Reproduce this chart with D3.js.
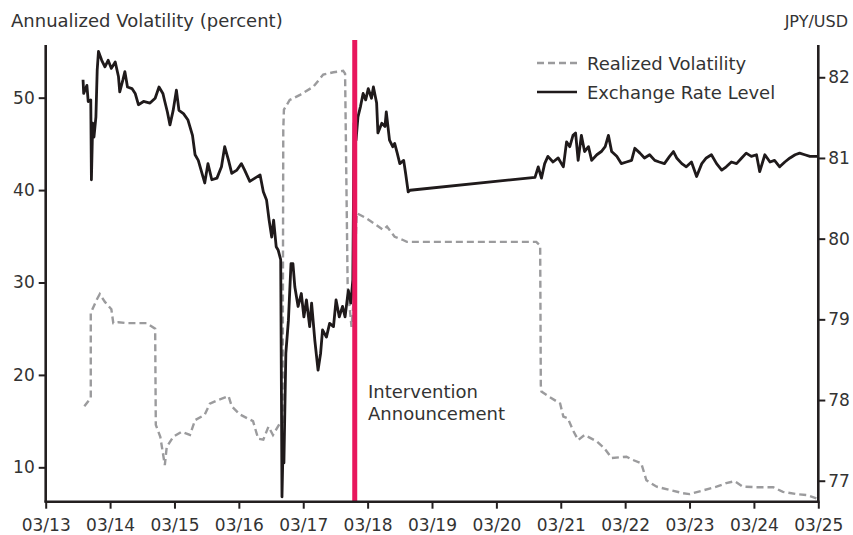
<!DOCTYPE html>
<html>
<head>
<meta charset="utf-8">
<script src="https://cdn.jsdelivr.net/npm/d3@7"></script>
<style>
  html, body { margin: 0; padding: 0; background: #fff; }
  svg { display: block; }
  text { font-family: "DejaVu Sans", sans-serif; fill: #333; }
</style>
</head>
<body>
<svg id="chart" width="853" height="535"></svg>
<script>
// ---------- data ----------
const xTickDays = [13, 14, 15, 16, 17, 18, 19, 20, 21, 22, 23, 24, 25];
const xTickLabels = ["03/13","03/14","03/15","03/16","03/17","03/18","03/19","03/20","03/21","03/22","03/23","03/24","03/25"];
const leftTicks = [10, 20, 30, 40, 50];
const rightTicks = [77, 78, 79, 80, 81, 82];
const interventionDay = 17.8;

// Realized volatility (percent, left axis)
const volDays = [13.60,13.70,13.70,13.79,13.84,13.92,14.02,14.05,14.13,14.26,14.57,14.70,14.71,14.78,14.85,14.88,14.98,15.11,15.24,15.32,15.47,15.55,15.68,15.84,15.89,16.02,16.22,16.30,16.38,16.46,16.53,16.64,16.68,16.69,16.70,16.79,16.95,17.16,17.31,17.47,17.62,17.65,17.69,17.75,17.78,17.83,17.98,18.14,18.24,18.30,18.42,18.55,18.61,20.62,20.68,20.69,20.70,20.83,20.99,21.04,21.11,21.19,21.27,21.37,21.56,21.68,21.79,22.02,22.12,22.25,22.33,22.49,22.69,22.90,23.00,23.21,23.42,23.57,23.70,23.83,24.04,24.30,24.45,24.66,24.82,24.97];
const volValues = [16.6,17.5,26.7,28.1,28.75,27.9,27.1,25.6,25.7,25.6,25.6,25.0,14.6,13.3,10.25,12.2,13.3,13.85,13.5,15.1,15.7,16.9,17.3,17.7,16.6,15.7,15.0,13.1,13.0,14.4,13.5,14.8,14.9,46.5,48.7,49.75,50.3,51.2,52.5,52.75,52.9,52.6,29.5,25.2,27.8,37.5,36.95,36.2,35.7,36.05,34.95,34.6,34.4,34.4,34.0,18.9,18.2,17.6,16.9,15.5,15.3,14.0,12.95,13.5,12.8,12.05,11.0,11.15,10.8,10.45,8.6,7.9,7.55,7.2,7.1,7.5,7.9,8.3,8.5,7.9,7.85,7.85,7.35,7.1,7.0,6.65];

// Exchange rate level (JPY/USD, right axis)
const fxDays = [13.58,13.59,13.64,13.66,13.70,13.71,13.73,13.75,13.78,13.80,13.82,13.87,13.92,13.97,14.02,14.08,14.13,14.15,14.20,14.23,14.27,14.34,14.39,14.44,14.52,14.62,14.70,14.76,14.82,14.85,14.89,14.93,14.98,15.03,15.07,15.14,15.21,15.28,15.32,15.37,15.42,15.47,15.52,15.58,15.66,15.73,15.78,15.84,15.89,15.97,16.04,16.09,16.17,16.25,16.33,16.38,16.43,16.47,16.51,16.54,16.58,16.61,16.65,16.67,16.69,16.70,16.73,16.77,16.81,16.84,16.87,16.92,16.97,17.01,17.05,17.10,17.13,17.18,17.23,17.27,17.30,17.36,17.41,17.47,17.51,17.56,17.61,17.65,17.70,17.74,17.77,17.79,17.82,17.85,17.89,17.93,17.97,18.01,18.06,18.09,18.14,18.16,18.22,18.27,18.29,18.34,18.39,18.42,18.46,18.50,18.56,18.59,18.63,18.66,20.60,20.65,20.70,20.75,20.80,20.88,20.96,21.04,21.09,21.14,21.19,21.23,21.27,21.32,21.37,21.43,21.48,21.56,21.63,21.69,21.74,21.79,21.87,21.94,22.02,22.10,22.15,22.23,22.30,22.38,22.46,22.53,22.61,22.69,22.75,22.80,22.88,22.95,23.03,23.11,23.19,23.26,23.34,23.42,23.50,23.57,23.65,23.73,23.81,23.88,23.96,24.04,24.09,24.17,24.25,24.32,24.40,24.48,24.56,24.64,24.71,24.79,24.87,24.95,25.00];
const fxValues = [81.97,81.80,81.90,81.70,81.72,80.73,81.43,81.26,81.51,82.09,82.32,82.21,82.13,82.21,82.11,82.19,82.01,81.82,81.97,82.07,81.88,81.86,81.80,81.66,81.70,81.68,81.74,81.88,81.80,81.70,81.57,81.41,81.59,81.84,81.59,81.55,81.47,81.28,81.04,80.97,80.83,80.69,80.93,80.73,80.75,80.89,81.14,80.97,80.81,80.85,80.93,80.85,80.71,80.75,80.79,80.58,80.48,80.23,80.02,80.23,79.90,79.86,79.74,76.80,77.55,77.22,78.58,78.99,79.69,79.69,79.40,79.16,79.32,79.03,79.24,78.91,79.20,78.74,78.37,78.58,78.87,78.78,78.95,78.91,79.24,79.03,79.16,79.03,79.36,79.20,79.49,81.43,81.22,81.51,81.64,81.80,81.72,81.86,81.74,81.88,81.68,81.31,81.43,81.39,81.57,81.22,81.14,81.18,81.06,80.93,80.97,80.81,80.58,80.60,80.76,80.89,80.75,80.93,81.02,80.95,81.00,80.89,81.20,81.14,81.28,81.31,80.97,81.28,81.08,81.14,80.97,81.04,81.08,81.14,81.28,81.08,81.02,80.93,80.95,80.97,81.12,81.06,81.00,81.04,80.97,80.95,80.93,81.02,81.08,81.00,80.93,80.89,80.95,80.77,80.93,81.00,81.04,80.93,80.85,80.89,80.95,80.93,81.00,81.06,81.02,81.04,80.83,81.04,80.95,80.97,80.89,80.95,81.00,81.04,81.06,81.04,81.02,81.02,81.02];

// ---------- chart ----------
const svg = d3.select("#chart");
const mLeft = 45.7, mRight = 818.3, mTop = 45, mBottom = 501.7;

const x = d3.scaleLinear().domain([13, 25]).range([mLeft, mRight]);
const yL = d3.scaleLinear().domain([6.28, 55.7]).range([mBottom, mTop]);
const yR = d3.scaleLinear().domain([76.74, 82.4]).range([mBottom, mTop]);

const axisColor = "#231f20";
const tickFont = 17;
const labelFont = 18;

// Realized volatility (dashed gray)
const volData = volDays.map((d, i) => [d, volValues[i]]);
svg.append("path")
  .datum(volData)
  .attr("fill", "none")
  .attr("stroke", "#9b9b9d")
  .attr("stroke-width", 2.4)
  .attr("stroke-dasharray", "7,4")
  .attr("d", d3.line().x(d => x(d[0])).y(d => yL(d[1])));

// Exchange rate (black)
const fxData = fxDays.map((d, i) => [d, fxValues[i]]);
svg.append("path")
  .datum(fxData)
  .attr("fill", "none")
  .attr("stroke", "#1f1a1b")
  .attr("stroke-width", 2.8)
  .attr("stroke-linejoin", "round")
  .attr("d", d3.line().x(d => x(d[0])).y(d => yR(d[1])));

// Intervention line
svg.append("line")
  .attr("x1", x(interventionDay)).attr("x2", x(interventionDay))
  .attr("y1", 40).attr("y2", mBottom)
  .attr("stroke", "#e8175d")
  .attr("stroke-width", 5);

// Axes
const gL = svg.append("g").attr("transform", `translate(${mLeft},0)`)
  .call(d3.axisLeft(yL).tickValues(leftTicks).tickFormat(d3.format("d")).tickSize(7).tickPadding(4).tickSizeOuter(0));
const gR = svg.append("g").attr("transform", `translate(${mRight},0)`)
  .call(d3.axisRight(yR).tickValues(rightTicks).tickFormat(d3.format("d")).tickSize(7).tickPadding(3).tickSizeOuter(0));
const gB = svg.append("g").attr("transform", `translate(0,${mBottom})`)
  .call(d3.axisBottom(x).tickValues(xTickDays).tickFormat((d, i) => xTickLabels[i]).tickSize(7).tickPadding(10).tickSizeOuter(0));

[gL, gR, gB].forEach(g => {
  g.select(".domain").attr("stroke", axisColor).attr("stroke-width", 2.6);
  g.selectAll(".tick line").attr("stroke", axisColor).attr("stroke-width", 2);
  g.selectAll(".tick text")
    .attr("font-family", "DejaVu Sans, sans-serif")
    .attr("font-size", tickFont)
    .attr("fill", "#333");
});
gL.select(".domain").attr("d", `M0,${mTop}V${mBottom}`);
gR.select(".domain").attr("d", `M0,${mTop}V${mBottom}`);
gB.select(".domain").attr("d", `M${mLeft - 1.3},0H${mRight + 1.3}`);

// Axis titles
svg.append("text").attr("x", 11).attr("y", 27)
  .attr("font-size", labelFont).text("Annualized Volatility (percent)");
svg.append("text").attr("x", 848).attr("y", 27).attr("text-anchor", "end")
  .attr("font-size", 16).text("JPY/USD");

// Legend
const legend = svg.append("g");
legend.append("line").attr("x1", 537).attr("x2", 577).attr("y1", 63).attr("y2", 63)
  .attr("stroke", "#9b9b9d").attr("stroke-width", 2.4).attr("stroke-dasharray", "7,4");
legend.append("text").attr("x", 587).attr("y", 69.5).attr("font-size", labelFont).text("Realized Volatility");
legend.append("line").attr("x1", 537).attr("x2", 577).attr("y1", 92).attr("y2", 92)
  .attr("stroke", "#1f1a1b").attr("stroke-width", 2.6);
legend.append("text").attr("x", 587).attr("y", 98.5).attr("font-size", labelFont).text("Exchange Rate Level");

// Annotation
svg.append("text").attr("x", 368).attr("y", 398).attr("font-size", labelFont).text("Intervention");
svg.append("text").attr("x", 368).attr("y", 420).attr("font-size", labelFont).text("Announcement");
</script>
</body>
</html>
